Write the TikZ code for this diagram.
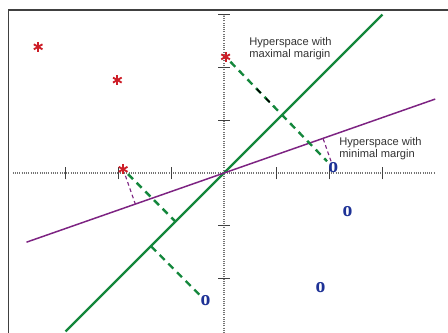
\documentclass[tikz,border=0pt]{standalone}
\usepackage{fontspec}
\newfontfamily\labelfont{Liberation Sans}
\newfontfamily\markfont{Liberation Serif}
\usetikzlibrary{calc}

\definecolor{hpgreen}{RGB}{20,135,60}
\definecolor{hppurple}{RGB}{125,35,130}
\definecolor{ptred}{RGB}{205,30,40}
\definecolor{ptblue}{RGB}{30,50,150}

\begin{document}
\begin{tikzpicture}[
    redpt/.style={circle, inner sep=0pt, minimum size=7pt},
    bluept/.style={inner sep=0.5pt, text=ptblue, font=\markfont\bfseries\fontsize{11.5}{11.5}\selectfont},
    axisline/.style={black!55, line width=0.6pt, dash pattern=on 0.5pt off 0.7pt},
    tickmark/.style={black!75, line width=0.5pt},
    gdash/.style={hpgreen, line width=1.3pt, dash pattern=on 3.8pt off 2.8pt},
    pdash/.style={hppurple, line width=0.6pt, dash pattern=on 2pt off 1.6pt},
    hlabel/.style={align=left, inner sep=0pt, text=black!80, font=\labelfont\fontsize{6}{6.5}\selectfont}]
    \useasboundingbox (-4.2424,-3.0114) rectangle (4.2424,3.2765);
    \clip (-4.2424,-3.0114) rectangle (4.2424,3.2765);
    % frame and axes
    \draw[black!75, line width=0.8pt] (-4.085,-3.2) |- (4.4,3.087);
    \draw[axisline] (-4,0) -- (4,0);
    \draw[axisline] (0,-3.2) -- (0,3);
    \foreach \x in {-3,-2,-1,1,2,3} \draw[tickmark] (\x,-0.12) -- (\x,0.12);
    \foreach \y in {-2,-1,1,2,3} \draw[tickmark] (-0.11,\y) -- (0.11,\y);
    % the two hyperplanes
    \coordinate (g1) at (-3,-3);
    \coordinate (g2) at (3,3);
    \coordinate (m1) at (-3.74,-1.31);
    \coordinate (m2) at (4,1.4);
    \draw[hpgreen, line width=1.3pt] (g1) -- (g2);
    \draw[hppurple, line width=0.8pt] (m1) -- (m2);
    % samples
    \node[redpt] (a1) at (-3.52,2.39) {};
    \node[redpt] (a2) at (-2.02,1.76) {};
    \node[redpt] (a3) at (0.03,2.20) {};
    \node[redpt] (a4) at (-1.91,0.07) {};
    \foreach \p in {a1,a2,a3,a4}
        \foreach \a in {90,30,150}
            \draw[ptred, line width=1pt] ($(\p)+(\a:2.7pt)$) -- ($(\p)-(\a:2.7pt)$);
    \node[bluept] (o1) at (2.07,0.10) {\scalebox{0.92}[1]{o}};
    \node[bluept] (o2) at (2.34,-0.73) {\scalebox{0.92}[1]{o}};
    \node[bluept] (o3) at (1.83,-2.17) {\scalebox{0.92}[1]{o}};
    \node[bluept] (o4) at (-0.35,-2.42) {\scalebox{0.92}[1]{o}};
    % distances to the hyperplanes
    \coordinate (f1) at ($(g1)!(a4)!(g2)$);
    \coordinate (f2) at ($(g1)!(o4)!(g2)$);
    \coordinate (h1) at ($(m1)!(a4)!(m2)$);
    \coordinate (h2) at ($(m1)!(o1)!(m2)$);
    \draw[gdash] (a4) -- (f1);
    \draw[gdash] (o4) -- (f2);
    \draw[gdash] (a3) -- (o1);
    \draw[black, line width=0.9pt, dash pattern=on 3pt off 4pt] ($(a3)!0.29!(o1)$) -- ($(a3)!0.43!(o1)$);
    \draw[pdash] (a4) -- (h1);
    \draw[pdash] (o1) -- (h2);
    % labels
    \node[hlabel, anchor=west] (lmax) at (0.473,2.35) {Hyperspace with\\maximal marigin};
    \node[hlabel, anchor=west] (lmin) at (2.178,0.455) {Hyperspace with\\minimal margin};
\end{tikzpicture}
\end{document}
